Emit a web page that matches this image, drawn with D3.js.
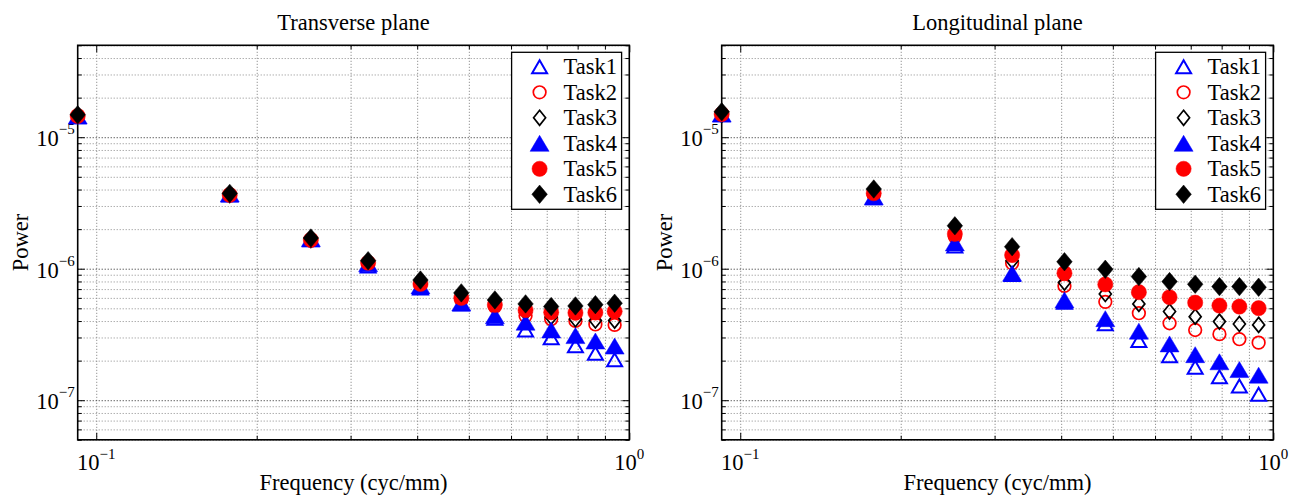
<!DOCTYPE html>
<html><head><meta charset="utf-8">
<script src="https://cdn.jsdelivr.net/npm/d3@7"></script>
<style>
body{margin:0;background:#fff}
text{font-family:"Liberation Serif","Times New Roman",serif;fill:#000}
</style>
</head><body>
<svg id="chart" width="1301" height="498"></svg>
<script>
// ---------------- data ----------------
const frequency = [0.0923, 0.178, 0.2527, 0.3236, 0.4057, 0.484, 0.5595, 0.6388, 0.7136, 0.7924, 0.8637, 0.9386];
const taskNames = ["Task1", "Task2", "Task3", "Task4", "Task5", "Task6"];
const panelTitles = ["Transverse plane", "Longitudinal plane"];

const transverseTask1 = [1.43e-5, 3.64e-6, 1.66e-6, 1.05e-6, 7.14e-7, 5.40e-7, 4.20e-7, 3.42e-7, 2.99e-7, 2.59e-7, 2.28e-7, 2.03e-7];
const transverseTask2 = [1.45e-5, 3.64e-6, 1.63e-6, 1.09e-6, 7.53e-7, 5.79e-7, 5.15e-7, 4.38e-7, 4.13e-7, 4.01e-7, 3.77e-7, 3.74e-7];
const transverseTask3 = [1.45e-5, 3.64e-6, 1.66e-6, 1.11e-6, 7.66e-7, 5.90e-7, 5.21e-7, 4.64e-7, 4.30e-7, 4.13e-7, 4.04e-7, 4.03e-7];
const transverseTask4 = [1.45e-5, 3.70e-6, 1.69e-6, 1.09e-6, 7.40e-7, 5.49e-7, 4.38e-7, 3.92e-7, 3.42e-7, 3.10e-7, 2.82e-7, 2.58e-7];
const transverseTask5 = [1.45e-5, 3.64e-6, 1.66e-6, 1.11e-6, 7.66e-7, 6.00e-7, 5.31e-7, 4.85e-7, 4.66e-7, 4.62e-7, 4.64e-7, 4.74e-7];
const transverseTask6 = [1.48e-5, 3.74e-6, 1.71e-6, 1.15e-6, 8.20e-7, 6.55e-7, 5.79e-7, 5.40e-7, 5.15e-7, 5.21e-7, 5.33e-7, 5.46e-7];

const longitudinalTask1 = [1.48e-5, 3.46e-6, 1.49e-6, 9.02e-7, 5.56e-7, 3.82e-7, 2.84e-7, 2.18e-7, 1.78e-7, 1.51e-7, 1.28e-7, 1.11e-7];
const longitudinalTask2 = [1.48e-5, 3.64e-6, 1.75e-6, 1.10e-6, 7.40e-7, 5.60e-7, 4.59e-7, 3.85e-7, 3.42e-7, 3.18e-7, 2.91e-7, 2.74e-7];
const longitudinalTask3 = [1.48e-5, 3.64e-6, 1.78e-6, 1.15e-6, 7.84e-7, 6.43e-7, 5.40e-7, 4.72e-7, 4.32e-7, 3.96e-7, 3.80e-7, 3.74e-7];
const longitudinalTask4 = [1.50e-5, 3.52e-6, 1.57e-6, 9.24e-7, 5.79e-7, 4.17e-7, 3.35e-7, 2.68e-7, 2.22e-7, 1.96e-7, 1.71e-7, 1.55e-7];
const longitudinalTask5 = [1.50e-5, 3.75e-6, 1.84e-6, 1.27e-6, 9.24e-7, 7.60e-7, 6.63e-7, 6.07e-7, 5.52e-7, 5.24e-7, 5.15e-7, 5.01e-7];
const longitudinalTask6 = [1.56e-5, 4.04e-6, 2.12e-6, 1.47e-6, 1.13e-6, 9.90e-7, 8.71e-7, 7.98e-7, 7.62e-7, 7.31e-7, 7.31e-7, 7.23e-7];

const xTickValues = [0.1, 1];
const xTickExponents = ["\u22121", "0"];
const yTickValues = [1e-7, 1e-6, 1e-5];
const yTickExponents = ["\u22127", "\u22126", "\u22125"];
const xDomain = [0.0923, 1];
const yDomain = [5e-8, 5e-5];
const xLabel = "Frequency (cyc/mm)";
const yLabel = "Power";

// ---------------- layout / style ----------------
const panels = [
  {x0: 77.7, x1: 629.3, title: panelTitles[0], series: [transverseTask1, transverseTask2, transverseTask3, transverseTask4, transverseTask5, transverseTask6]},
  {x0: 721.7, x1: 1273.3, title: panelTitles[1], series: [longitudinalTask1, longitudinalTask2, longitudinalTask3, longitudinalTask4, longitudinalTask5, longitudinalTask6]}
];
const yTop = 45.3, yBot = 439.8;
const FS = 22.5, SUP = 15;

const markerStyles = [
  {shape: "tri", w: 15, h: 13, fill: "none", stroke: "#0000ff", sw: 2},
  {shape: "circ", r: 6.3, fill: "none", stroke: "#ff0000", sw: 1.7},
  {shape: "dia", w: 12, h: 15, fill: "none", stroke: "#000", sw: 1.7},
  {shape: "tri", w: 19, h: 16, fill: "#0000ff", stroke: "#0000ff", sw: 0.5},
  {shape: "circ", r: 7.6, fill: "#ff0000", stroke: "#ff0000", sw: 0.5},
  {shape: "dia", w: 15.5, h: 18.5, fill: "#000", stroke: "#000", sw: 0.5}
];

function drawMarker(g, st, cx, cy) {
  if (st.shape === "circ") {
    g.append("circle").attr("cx", cx).attr("cy", cy).attr("r", st.r)
      .attr("fill", st.fill).attr("stroke", st.stroke).attr("stroke-width", st.sw);
  } else {
    const w = st.w / 2, h = st.h / 2;
    const d = st.shape === "tri"
      ? `M${cx},${cy - h}L${cx + w},${cy + h}L${cx - w},${cy + h}Z`
      : `M${cx},${cy - h}L${cx + w},${cy}L${cx},${cy + h}L${cx - w},${cy}Z`;
    g.append("path").attr("d", d).attr("fill", st.fill).attr("stroke", st.stroke)
      .attr("stroke-width", st.sw).attr("stroke-linejoin", "miter");
  }
}

const svg = d3.select("#chart");

const xMinor = d3.range(2, 10).map(k => k * 0.1);
const yMinor = [];
[1e-8, 1e-7, 1e-6, 1e-5].forEach(d => { for (let k = 2; k <= 9; k++) { const v = k * d; if (v > yDomain[0] * 0.999 && v < yDomain[1] * 1.001) yMinor.push(v); } });

panels.forEach(p => {
  const x = d3.scaleLog().domain(xDomain).range([p.x0, p.x1]);
  const y = d3.scaleLog().domain(yDomain).range([yBot, yTop]);
  const W = p.x1 - p.x0, H = yBot - yTop;
  const g = svg.append("g");

  // grid
  const gridStyle = (sel, col) => {
    sel.select(".domain").remove();
    sel.selectAll(".tick line").attr("stroke", col).attr("stroke-dasharray", "1,2").attr("stroke-width", 1);
  };
  g.append("g").attr("transform", `translate(0,${yBot})`)
    .call(d3.axisBottom(x).tickValues(xMinor.concat([0.1])).tickSize(-H).tickFormat(""))
    .call(s => gridStyle(s, "#7a7a7a"));
  g.append("g").attr("transform", `translate(${p.x0},0)`)
    .call(d3.axisLeft(y).tickValues(yMinor).tickSize(-W).tickFormat(""))
    .call(s => gridStyle(s, "#8a8a8a"));
  g.append("g").attr("transform", `translate(${p.x0},0)`)
    .call(d3.axisLeft(y).tickValues(yTickValues).tickSize(-W).tickFormat(""))
    .call(s => gridStyle(s, "#222"));

  // ticks (inside, all four sides)
  const tickStyle = sel => { sel.select(".domain").remove(); sel.selectAll(".tick line").attr("stroke", "#000").attr("stroke-width", 1); };
  g.append("g").attr("transform", `translate(0,${yBot})`).call(d3.axisBottom(x).tickValues(xTickValues).tickSize(-7).tickFormat("")).call(tickStyle);
  g.append("g").attr("transform", `translate(0,${yBot})`).call(d3.axisBottom(x).tickValues(xMinor).tickSize(-4).tickFormat("")).call(tickStyle);
  g.append("g").attr("transform", `translate(0,${yTop})`).call(d3.axisTop(x).tickValues(xTickValues).tickSize(-7).tickFormat("")).call(tickStyle);
  g.append("g").attr("transform", `translate(0,${yTop})`).call(d3.axisTop(x).tickValues(xMinor).tickSize(-4).tickFormat("")).call(tickStyle);
  g.append("g").attr("transform", `translate(${p.x0},0)`).call(d3.axisLeft(y).tickValues(yTickValues).tickSize(-7).tickFormat("")).call(tickStyle);
  g.append("g").attr("transform", `translate(${p.x0},0)`).call(d3.axisLeft(y).tickValues(yMinor).tickSize(-4).tickFormat("")).call(tickStyle);
  g.append("g").attr("transform", `translate(${p.x1},0)`).call(d3.axisRight(y).tickValues(yTickValues).tickSize(-7).tickFormat("")).call(tickStyle);
  g.append("g").attr("transform", `translate(${p.x1},0)`).call(d3.axisRight(y).tickValues(yMinor).tickSize(-4).tickFormat("")).call(tickStyle);

  // box
  g.append("rect").attr("x", p.x0).attr("y", yTop).attr("width", W).attr("height", H)
    .attr("fill", "none").attr("stroke", "#000").attr("stroke-width", 1.6);

  // tick labels
  xTickValues.forEach((v, i) => {
    const t = g.append("text").attr("x", x(v)).attr("y", 470).attr("text-anchor", "middle").attr("font-size", FS);
    t.append("tspan").text("10");
    t.append("tspan").attr("dy", -11).attr("font-size", SUP).text(xTickExponents[i]);
  });
  yTickValues.forEach((v, i) => {
    const t = g.append("text").attr("x", p.x0 - 3).attr("y", y(v) + 9).attr("text-anchor", "end").attr("font-size", FS);
    t.append("tspan").text("10");
    t.append("tspan").attr("dy", -12).attr("font-size", SUP).text(yTickExponents[i]);
  });

  // titles
  g.append("text").attr("x", (p.x0 + p.x1) / 2).attr("y", 29.5).attr("text-anchor", "middle").attr("font-size", FS).text(p.title);
  g.append("text").attr("x", (p.x0 + p.x1) / 2).attr("y", 490).attr("text-anchor", "middle").attr("font-size", FS).text(xLabel);
  g.append("text").attr("transform", `translate(${p.x0 - 50},${(yTop + yBot) / 2}) rotate(-90)`).attr("text-anchor", "middle").attr("font-size", FS).text(yLabel);

  // markers
  const mg = g.append("g");
  p.series.forEach((vals, si) => {
    vals.forEach((v, i) => drawMarker(mg, markerStyles[si], x(frequency[i]), y(v)));
  });

  // legend
  const lw = 110, lh = 157;
  const lx = p.x1 - 7.7 - lw, ly = yTop + 7;
  const lg = g.append("g");
  lg.append("rect").attr("x", lx).attr("y", ly).attr("width", lw).attr("height", lh)
    .attr("fill", "#fff").attr("stroke", "#000").attr("stroke-width", 1.3);
  taskNames.forEach((name, i) => {
    const cy = ly + 14.5 + i * 25.5;
    drawMarker(lg, markerStyles[i], lx + 28, cy);
    lg.append("text").attr("x", lx + 52).attr("y", cy + 7.5).attr("font-size", FS).text(name);
  });
});
</script>
</body></html>
